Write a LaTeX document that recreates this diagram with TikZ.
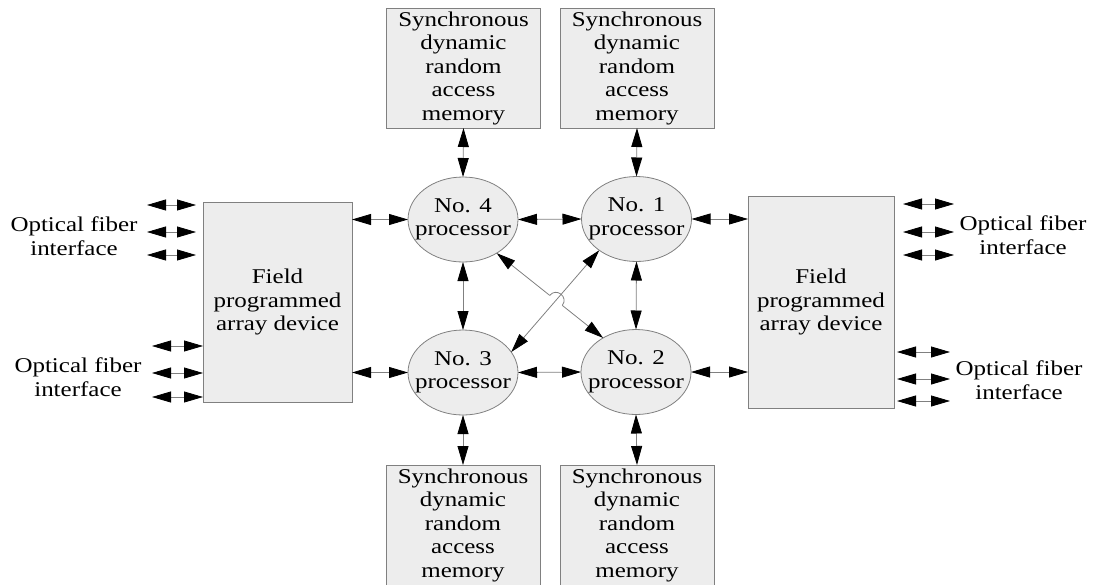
\documentclass[tikz,border=0pt]{standalone}
\usepackage{fontspec}
\setmainfont{Liberation Serif}[FakeStretch=1.19]
\usetikzlibrary{arrows.meta,shapes.geometric,calc}
\definecolor{boxfill}{RGB}{237,237,237}
\definecolor{edgegray}{RGB}{128,128,128}
\tikzset{
  membox/.style={draw=edgegray, fill=boxfill, line width=0.8pt, align=center, minimum width=154pt, minimum height=120pt, inner sep=0pt, outer sep=0pt},
  fpgabox/.style={draw=edgegray, fill=boxfill, line width=0.8pt, align=center, inner sep=0pt, outer sep=0pt},
  proc/.style={ellipse, draw=edgegray, fill=boxfill, line width=0.8pt, align=center, minimum width=110pt, minimum height=85pt, inner xsep=-9pt, inner ysep=0pt, outer sep=0pt},
  biarrow/.style={draw=edgegray, line width=0.8pt, {Triangle[length=19pt,width=11pt,color=black]}-{Triangle[length=19pt,width=11pt,color=black]}},
  onearrow/.style={draw=edgegray, line width=0.8pt, -{Triangle[length=19pt,width=11pt,color=black]}}
}
\begin{document}
\begin{tikzpicture}[x=1pt, y=-1pt, font=\fontsize{21}{23.5}\selectfont]
\useasboundingbox (0,0) rectangle (1094,584);
\node[membox] (m4) at (463.5,68) {Synchronous\\dynamic\\random\\access\\memory};
\node[membox] (m1) at (637,68) {Synchronous\\dynamic\\random\\access\\memory};
\node[membox] (m3) at (463,525) {Synchronous\\dynamic\\random\\access\\memory};
\node[membox] (m2) at (637,525) {Synchronous\\dynamic\\random\\access\\memory};
\node[proc] (p4) at (463,219.5) {No. 4\\processor};
\node[proc] (p1) at (636.5,219) {No. 1\\processor};
\node[proc] (p3) at (463,372.5) {No. 3\\processor};
\node[proc] (p2) at (636,372) {No. 2\\processor};
\node[fpgabox, minimum width=149pt, minimum height=200pt] (fl) at (277.5,302) {Field\\programmed\\array device};
\node[fpgabox, minimum width=146pt, minimum height=212pt] (fr) at (821,302) {Field\\programmed\\array device};
\node[align=center] (ol1) at (74,236) {Optical fiber\\interface};
\node[align=center] (ol2) at (78,377) {Optical fiber\\interface};
\node[align=center] (or1) at (1023,235) {Optical fiber\\interface};
\node[align=center] (or2) at (1019,380) {Optical fiber\\interface};
% memory links
\draw[biarrow] (m4.south) -- (p4.north);
\draw[biarrow] (m1.south) -- (p1.north);
\draw[biarrow] (p3.south) -- (m3.north);
\draw[biarrow] (p2.south) -- (m2.north);
% processor links
\draw[biarrow] (p4.east) -- (p1.west);
\draw[biarrow] (p3.east) -- (p2.west);
\draw[biarrow] (p4.south) -- (p3.north);
\draw[biarrow] (p1.south) -- (p2.north);
\draw[biarrow] (p4.west -| fl.east) -- (p4.west);
\draw[biarrow] (p3.west -| fl.east) -- (p3.west);
\draw[biarrow] (p1.east) -- (p1.east -| fr.west);
\draw[biarrow] (p2.east) -- (p2.east -| fr.west);
% crossing links
\draw[biarrow] (p1.220) -- (p3.23);
\coordinate (x) at (intersection of p4.-45--p2.134 and p1.220--p3.23);
\coordinate (j1) at ($(x)!8pt!(p4.-45)$);
\coordinate (j2) at ($(x)!8pt!(p2.134)$);
\draw[onearrow] (j1) -- (p4.-45);
\draw[draw=edgegray, line width=0.8pt] (j1) to[bend left=90, looseness=1.7] (j2);
\draw[onearrow] (j2) -- (p2.134);
% fiber links
\foreach \y [count=\i] in {205,232,255} {
  \coordinate (la\i) at (147,\y);
  \coordinate (lb\i) at (196,\y);
  \draw[biarrow] (la\i) -- (lb\i);
}
\foreach \y [count=\i] in {346,373,397} {
  \coordinate (lc\i) at (152,\y);
  \coordinate (ld\i) at (203,\y);
  \draw[biarrow] (lc\i) -- (ld\i);
}
\foreach \y [count=\i] in {204,232,255} {
  \coordinate (ra\i) at (903,\y);
  \coordinate (rb\i) at (954,\y);
  \draw[biarrow] (ra\i) -- (rb\i);
}
\foreach \y [count=\i] in {352,379,401} {
  \coordinate (rc\i) at (897,\y);
  \coordinate (rd\i) at (950,\y);
  \draw[biarrow] (rc\i) -- (rd\i);
}
\end{tikzpicture}
\end{document}
